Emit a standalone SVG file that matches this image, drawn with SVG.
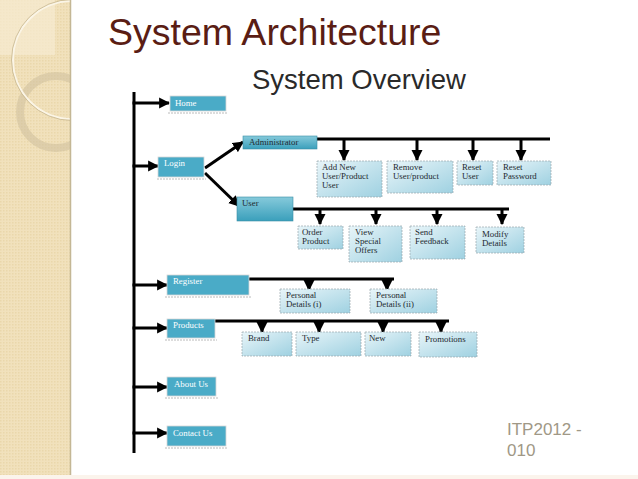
<svg xmlns="http://www.w3.org/2000/svg" width="638" height="479" viewBox="0 0 638 479">
<style>
.title{font-family:"Liberation Sans",Arial,sans-serif;font-size:37.5px;fill:#5a1d14}
.sub{font-family:"Liberation Sans",Arial,sans-serif;font-size:27.5px;fill:#2a2a2a}
.foot{font-family:"Liberation Sans",Arial,sans-serif;font-size:17px;fill:#a09886}
.dk{fill:#4aabc7;stroke:#d8d8d8;stroke-width:0.8}
.mid{fill:url(#gMid);stroke:#3a8ea6;stroke-width:0.6}
.lt{fill:url(#gLt);stroke:#9aa7ad;stroke-width:0.7;stroke-dasharray:2 1}
.wt{font-family:"Liberation Serif","Times New Roman",serif;font-size:8.8px;fill:#ffffff}
.bt{font-family:"Liberation Serif","Times New Roman",serif;font-size:8.8px;fill:#1e2a30}
.ln{stroke:#000;stroke-width:3;fill:none}
.ah{stroke:#000;stroke-width:3;fill:none;marker-end:url(#ar)}
.shd{stroke:#a8a8a8;stroke-width:0.8;stroke-dasharray:2 1;fill:none}
</style>
<defs>
<marker id="ar" viewBox="0 0 10 10" refX="9" refY="5" markerUnits="userSpaceOnUse" markerWidth="11" markerHeight="12" orient="auto">
<path d="M0,0 L10,5 L0,10 Z" fill="#000"/>
</marker>
<linearGradient id="gMid" x1="0" y1="0" x2="0" y2="1">
<stop offset="0" stop-color="#86cadb"/>
<stop offset="1" stop-color="#3a9fbb"/>
</linearGradient>
<linearGradient id="gLt" x1="0" y1="0" x2="1" y2="1">
<stop offset="0" stop-color="#e8f5f9"/>
<stop offset="1" stop-color="#9fd1e1"/>
</linearGradient>
<pattern id="dots" width="3" height="3" patternUnits="userSpaceOnUse">
<rect width="3" height="3" fill="#f1e1bc"/>
<rect width="1.5" height="1.5" fill="#ead7ab"/>
</pattern>
</defs>

<rect width="638" height="479" fill="#ffffff"/>
<g id="panel">
<rect x="0" y="0" width="70" height="479" fill="url(#dots)"/>
<rect x="0" y="0" width="55" height="55" fill="#f6ebd2" opacity="0.7"/>
<circle cx="56" cy="112" r="36" fill="none" stroke="#cdbf9c" stroke-width="8" opacity="0.55"/>
<circle cx="72" cy="60" r="59" fill="none" stroke="#fbf5e6" stroke-width="2"/>
<circle cx="72" cy="60" r="60.5" fill="none" stroke="#c6b68f" stroke-width="0.8"/>
<rect x="70" y="0" width="568" height="479" fill="#ffffff"/>
<line x1="70.5" y1="0" x2="70.5" y2="479" stroke="#c4b795" stroke-width="1.5"/>
<rect x="0" y="475" width="638" height="4" fill="#fbf4ec"/>
</g>

<text class="title" x="108" y="45">System Architecture</text>
<text class="sub" x="252" y="89">System Overview</text>
<text class="foot" x="507" y="435">ITP2012 -</text>
<text class="foot" x="507" y="456">010</text>

<g id="connectors">
<line class="ln" x1="134" y1="92" x2="134" y2="453"/>
<line class="ah" x1="132.5" y1="103" x2="169" y2="103"/>
<line class="ah" x1="132.5" y1="166" x2="158" y2="166"/>
<line class="ah" x1="132.5" y1="285" x2="167" y2="285"/>
<line class="ah" x1="132.5" y1="328" x2="167" y2="328"/>
<line class="ah" x1="132.5" y1="387" x2="167" y2="387"/>
<line class="ah" x1="132.5" y1="433" x2="167" y2="433"/>
<line class="ah" x1="205" y1="168" x2="243" y2="142"/>
<line class="ah" x1="205" y1="173" x2="239" y2="206"/>
<line class="ln" x1="317" y1="139" x2="550" y2="139"/>
<line class="ah" x1="344" y1="139" x2="344" y2="160"/>
<line class="ah" x1="417" y1="139" x2="417" y2="160"/>
<line class="ah" x1="473" y1="139" x2="473" y2="160"/>
<line class="ah" x1="521" y1="139" x2="521" y2="160"/>
<line class="ln" x1="293" y1="209" x2="509" y2="209"/>
<line class="ah" x1="320" y1="209" x2="320" y2="224"/>
<line class="ah" x1="376" y1="209" x2="376" y2="224"/>
<line class="ah" x1="437" y1="209" x2="437" y2="224"/>
<line class="ah" x1="502" y1="209" x2="502" y2="224"/>
<line class="ln" x1="249" y1="279" x2="394" y2="279"/>
<line class="ah" x1="309" y1="279" x2="309" y2="290"/>
<line class="ah" x1="387" y1="279" x2="387" y2="290"/>
<line class="ln" x1="215" y1="321" x2="449" y2="321"/>
<line class="ah" x1="262" y1="321" x2="262" y2="332"/>
<line class="ah" x1="319" y1="321" x2="319" y2="332"/>
<line class="ah" x1="383" y1="321" x2="383" y2="332"/>
<line class="ah" x1="441" y1="321" x2="441" y2="332"/>
</g>

<g id="home"><rect class="dk" x="170" y="96" width="56" height="15"/><path class="shd" d="M168,113 H228"/><text class="wt" x="175" y="106">Home</text></g>
<g id="login"><rect class="dk" x="158" y="157" width="46" height="20"/><path class="shd" d="M157,179 H206"/><text class="wt" x="164" y="166">Login</text></g>
<g id="administrator"><rect class="mid" x="243" y="136" width="74" height="13"/><text class="bt" x="249" y="145">Administrator</text></g>
<g id="user"><rect class="mid" x="237" y="197" width="56" height="24"/><text class="bt" x="242" y="206">User</text></g>

<g id="add-new"><rect class="lt" x="317" y="161" width="65" height="36"/><text class="bt" x="322" y="170">Add New</text><text class="bt" x="322" y="179">User/Product</text><text class="bt" x="322" y="188">User</text></g>
<g id="remove"><rect class="lt" x="387" y="161" width="66" height="32"/><text class="bt" x="393" y="170">Remove</text><text class="bt" x="393" y="179">User/product</text></g>
<g id="reset-user"><rect class="lt" x="457" y="161" width="36" height="24"/><text class="bt" x="462" y="170">Reset</text><text class="bt" x="462" y="179">User</text></g>
<g id="reset-password"><rect class="lt" x="497" y="161" width="54" height="24"/><text class="bt" x="503" y="170">Reset</text><text class="bt" x="503" y="179">Password</text></g>

<g id="order-product"><rect class="lt" x="298" y="226" width="45" height="23"/><text class="bt" x="302" y="235">Order</text><text class="bt" x="302" y="244">Product</text></g>
<g id="view-offers"><rect class="lt" x="349" y="226" width="53" height="36"/><text class="bt" x="355" y="235">View</text><text class="bt" x="355" y="244">Special</text><text class="bt" x="355" y="253">Offers</text></g>
<g id="send-feedback"><rect class="lt" x="410" y="226" width="55" height="33"/><text class="bt" x="415" y="235">Send</text><text class="bt" x="415" y="244">Feedback</text></g>
<g id="modify-details"><rect class="lt" x="476" y="227" width="48" height="26"/><text class="bt" x="482" y="237">Modify</text><text class="bt" x="482" y="246">Details</text></g>

<g id="register"><rect class="dk" x="167" y="275" width="82" height="20"/><path class="shd" d="M165,297 H251"/><text class="wt" x="173" y="284">Register</text></g>
<g id="personal-1"><rect class="lt" x="280" y="289" width="70" height="24"/><text class="bt" x="286" y="298">Personal</text><text class="bt" x="286" y="307">Details (i)</text></g>
<g id="personal-2"><rect class="lt" x="370" y="289" width="67" height="24"/><text class="bt" x="376" y="298">Personal</text><text class="bt" x="376" y="307">Details (ii)</text></g>

<g id="products"><rect class="dk" x="167" y="319" width="48" height="19"/><path class="shd" d="M165,340 H217"/><text class="wt" x="173" y="328">Products</text></g>
<g id="brand"><rect class="lt" x="242" y="332" width="50" height="24"/><text class="bt" x="248" y="341">Brand</text></g>
<g id="type"><rect class="lt" x="296" y="332" width="65" height="24"/><text class="bt" x="302" y="341">Type</text></g>
<g id="new"><rect class="lt" x="365" y="332" width="46" height="24"/><text class="bt" x="369" y="341">New</text></g>
<g id="promotions"><rect class="lt" x="419" y="332" width="58" height="25"/><text class="bt" x="425" y="342">Promotions</text></g>

<g id="about-us"><rect class="dk" x="167" y="377" width="49" height="19"/><path class="shd" d="M165,398 H218"/><text class="wt" x="174" y="387">About Us</text></g>
<g id="contact-us"><rect class="dk" x="167" y="426" width="59" height="20"/><path class="shd" d="M165,448 H228"/><text class="wt" x="173" y="436">Contact Us</text></g>
</svg>
